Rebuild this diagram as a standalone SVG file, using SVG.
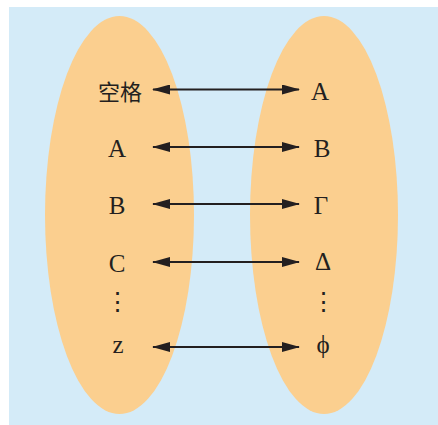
<svg xmlns="http://www.w3.org/2000/svg" width="438" height="425" viewBox="0 0 438 425">
<defs>
<style>
.t{font-family:"Liberation Serif","Noto Sans CJK SC",serif;font-size:25px;fill:#231f20;text-anchor:middle}
.c{stroke:#231f20;stroke-width:2.2;fill:none}
.set{fill:#fbcf8f}
</style>
<marker id="ah" viewBox="0 0 18 10" refX="17" refY="5" markerWidth="18" markerHeight="10" markerUnits="userSpaceOnUse" orient="auto-start-reverse">
<path d="M0,0 L18,5 L0,10 Z" fill="#231f20"/>
</marker>
</defs>
<rect x="9" y="7" width="429" height="418" fill="#d4ebf8"/>
<g id="setA"><ellipse class="set" cx="119.5" cy="215" rx="74.5" ry="199"/></g>
<g id="setB"><ellipse class="set" cx="324" cy="215" rx="74" ry="199"/></g>
<g id="connectors">
<line class="c" x1="153" y1="89.5" x2="299" y2="89.5" marker-start="url(#ah)" marker-end="url(#ah)"/>
<line class="c" x1="153" y1="147" x2="299" y2="147" marker-start="url(#ah)" marker-end="url(#ah)"/>
<line class="c" x1="153" y1="204" x2="299" y2="204" marker-start="url(#ah)" marker-end="url(#ah)"/>
<line class="c" x1="153" y1="262" x2="299" y2="262" marker-start="url(#ah)" marker-end="url(#ah)"/>
<line class="c" x1="153" y1="347" x2="299" y2="347" marker-start="url(#ah)" marker-end="url(#ah)"/>
</g>
<g id="l1"><text class="t" x="120" y="100" style="font-size:22px">空格</text></g>
<g id="l2"><text class="t" x="117" y="157">A</text></g>
<g id="l3"><text class="t" x="117" y="214">B</text></g>
<g id="l4"><text class="t" x="117" y="272">C</text></g>
<g id="l5"><text class="t" x="117" y="310">⋮</text></g>
<g id="l6"><text class="t" x="118" y="353">z</text></g>
<g id="r1"><text class="t" x="320" y="100">A</text></g>
<g id="r2"><text class="t" x="322" y="157">B</text></g>
<g id="r3"><text class="t" x="321" y="214">Γ</text></g>
<g id="r4"><text class="t" x="323" y="270">Δ</text></g>
<g id="r5"><text class="t" x="323" y="310">⋮</text></g>
<g id="r6"><text class="t" x="323" y="353">ϕ</text></g>
</svg>
